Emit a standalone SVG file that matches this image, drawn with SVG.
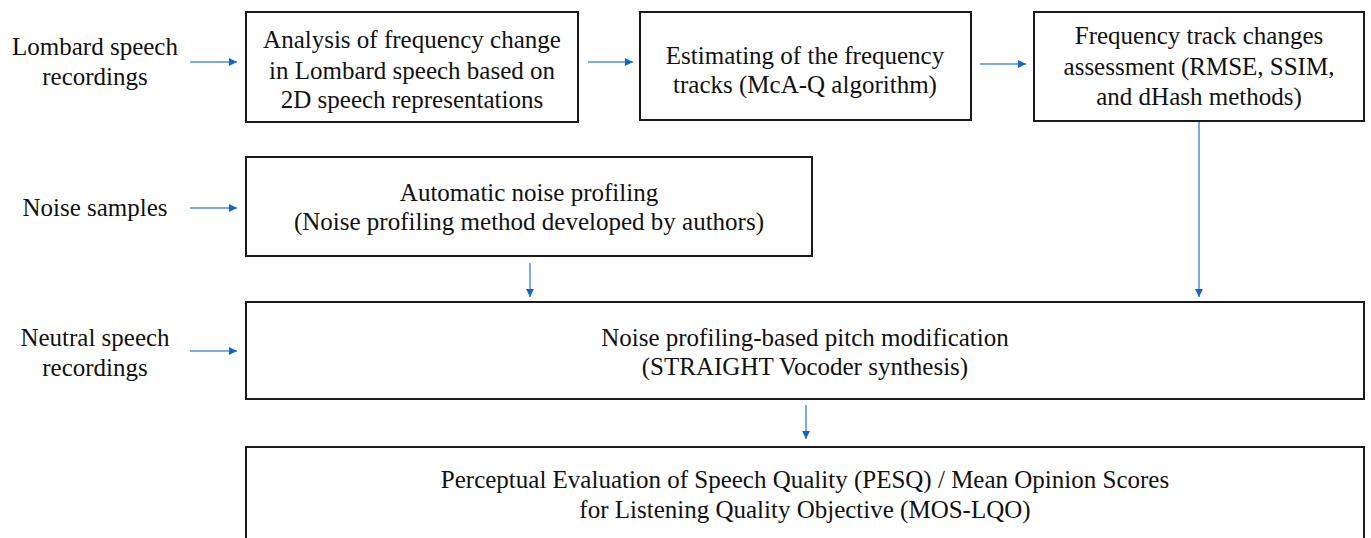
<svg xmlns="http://www.w3.org/2000/svg" width="1371" height="538" viewBox="0 0 1371 538">
<defs>
<style>
.box{fill:#fff;stroke:#1a1a1a;stroke-width:2}
.t{font-family:"Liberation Serif","Times New Roman",serif;font-size:25px;fill:#111;text-anchor:middle}
.c{stroke:#4a90dc;stroke-width:1.5;fill:none;marker-end:url(#ah)}
</style>
<marker id="ah" viewBox="0 0 10 10" refX="10" refY="5" markerWidth="8" markerHeight="8" markerUnits="userSpaceOnUse" orient="auto">
<path d="M0,0 L10,5 L0,10 z" fill="#1565c8"/>
</marker>
</defs>
<rect width="1371" height="538" fill="#fff"/>
<g id="in1"><text class="t" x="95" y="55">Lombard speech</text><text class="t" x="95" y="85">recordings</text></g>
<g id="in2"><text class="t" x="95" y="216">Noise samples</text></g>
<g id="in3"><text class="t" x="95" y="346">Neutral speech</text><text class="t" x="95" y="376">recordings</text></g>
<g id="n1"><rect class="box" x="246" y="12" width="332" height="110"/>
<text class="t" x="412" y="48">Analysis of frequency change</text>
<text class="t" x="412" y="79">in Lombard speech based on</text>
<text class="t" x="412" y="108">2D speech representations</text></g>
<g id="n2"><rect class="box" x="640" y="12" width="331" height="108"/>
<text class="t" x="805" y="64">Estimating of the frequency</text>
<text class="t" x="805" y="93">tracks (McA-Q algorithm)</text></g>
<g id="n3"><rect class="box" x="1034" y="12" width="330" height="109"/>
<text class="t" x="1199" y="44">Frequency track changes</text>
<text class="t" x="1199" y="75">assessment (RMSE, SSIM,</text>
<text class="t" x="1199" y="105">and dHash methods)</text></g>
<g id="n4"><rect class="box" x="246" y="157" width="566" height="99"/>
<text class="t" x="529" y="201">Automatic noise profiling</text>
<text class="t" x="529" y="230">(Noise profiling method developed by authors)</text></g>
<g id="n5"><rect class="box" x="246" y="302" width="1118" height="97"/>
<text class="t" x="805" y="346">Noise profiling-based pitch modification</text>
<text class="t" x="805" y="375">(STRAIGHT Vocoder synthesis)</text></g>
<g id="n6"><rect class="box" x="246" y="447" width="1118" height="110"/>
<text class="t" x="805" y="488">Perceptual Evaluation of Speech Quality (PESQ) / Mean Opinion Scores</text>
<text class="t" x="805" y="518">for Listening Quality Objective (MOS-LQO)</text></g>
<g id="connectors">
<line class="c" x1="190" y1="62" x2="237" y2="62"/>
<line class="c" x1="588" y1="62" x2="633" y2="62"/>
<line class="c" x1="980" y1="64" x2="1026" y2="64"/>
<line class="c" x1="190" y1="208" x2="237" y2="208"/>
<line class="c" x1="190" y1="351" x2="237" y2="351"/>
<line class="c" x1="530" y1="263" x2="530" y2="297"/>
<line class="c" x1="1199" y1="122" x2="1199" y2="297"/>
<line class="c" x1="806" y1="405" x2="806" y2="439"/>
</g>
</svg>
